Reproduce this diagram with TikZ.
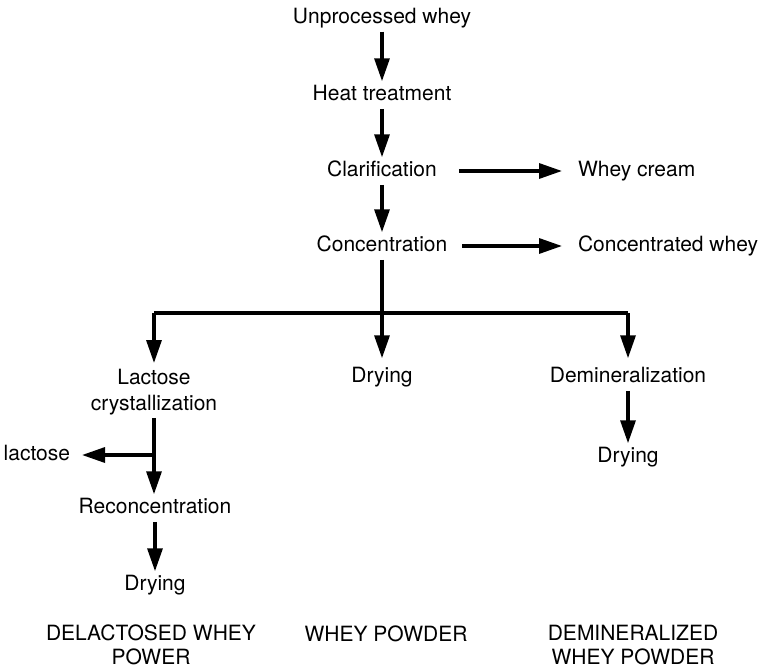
\documentclass[tikz,border=0pt]{standalone}
\usepackage{fontspec}
\setmainfont{TeX Gyre Heros}
\usetikzlibrary{arrows.meta}
\begin{document}
\begin{tikzpicture}[x=1pt,y=-1pt,
  lbl/.style={inner sep=0pt,outer sep=4pt,text height=15pt,text depth=4.5pt,font=\fontsize{21}{27}\selectfont},
  mlbl/.style={inner sep=0pt,outer sep=3pt,align=center,font=\fontsize{21}{26}\selectfont},
  flbl/.style={inner sep=0pt,align=center,font=\fontsize{21}{24}\selectfont},
  ln/.style={line width=3.3pt},
  arr/.style={ln,-{Triangle[length=23pt,width=15pt]}}]
\useasboundingbox (0,0) rectangle (759,669);
\node[lbl] (uw) at (382,18) {Unprocessed whey};
\node[lbl] (ht) at (382,95) {Heat treatment};
\node[lbl] (cl) at (382,171) {Clarification};
\node[lbl,anchor=west] (wc) at (574,171) {Whey cream};
\node[lbl] (co) at (382,246) {Concentration};
\node[lbl,anchor=west] (cw) at (574,246) {Concentrated whey};
\coordinate (sp) at (382,313);
\node[mlbl,anchor=north] (lc) at (154,366) {Lactose\\crystallization};
\node[lbl] (dr) at (382,377) {Drying};
\node[lbl] (de) at (628,377) {Demineralization};
\node[lbl] (dd) at (628,457) {Drying};
\coordinate (lb) at (154,455);
\node[lbl,anchor=east] (lac) at (74,455) {lactose};
\node[lbl] (rc) at (155,508) {Reconcentration};
\node[lbl] (dl) at (155,585) {Drying};
\node[flbl] (f1) at (151,645) {DELACTOSED WHEY\\POWER};
\node[lbl] (f2) at (386,636) {WHEY POWDER};
\node[flbl] (f3) at (633,645) {DEMINERALIZED\\WHEY POWDER};
% connectors
\draw[arr] (uw) -- (ht);
\draw[arr] (ht) -- (cl);
\draw[arr] (cl) -- (co);
\draw[arr,shorten <=18pt,shorten >=12pt] (cl) -- (wc);
\draw[arr,shorten <=11pt,shorten >=12pt] (co) -- (cw);
\draw[arr,shorten >=5pt] (co) -- (dr);
\draw[ln] (sp -| lc) -- (sp -| de);
\draw[arr,shorten >=3pt] (sp -| lc) -- (lc);
\draw[arr,shorten >=5pt] (sp -| de) -- (de);
\draw[arr] (de) -- (dd);
\draw[arr] (lc) -- (lc |- rc.north);
\draw[arr,shorten >=8pt] (lb) -- (lac);
\draw[arr] (rc) -- (dl);
\end{tikzpicture}
\end{document}
